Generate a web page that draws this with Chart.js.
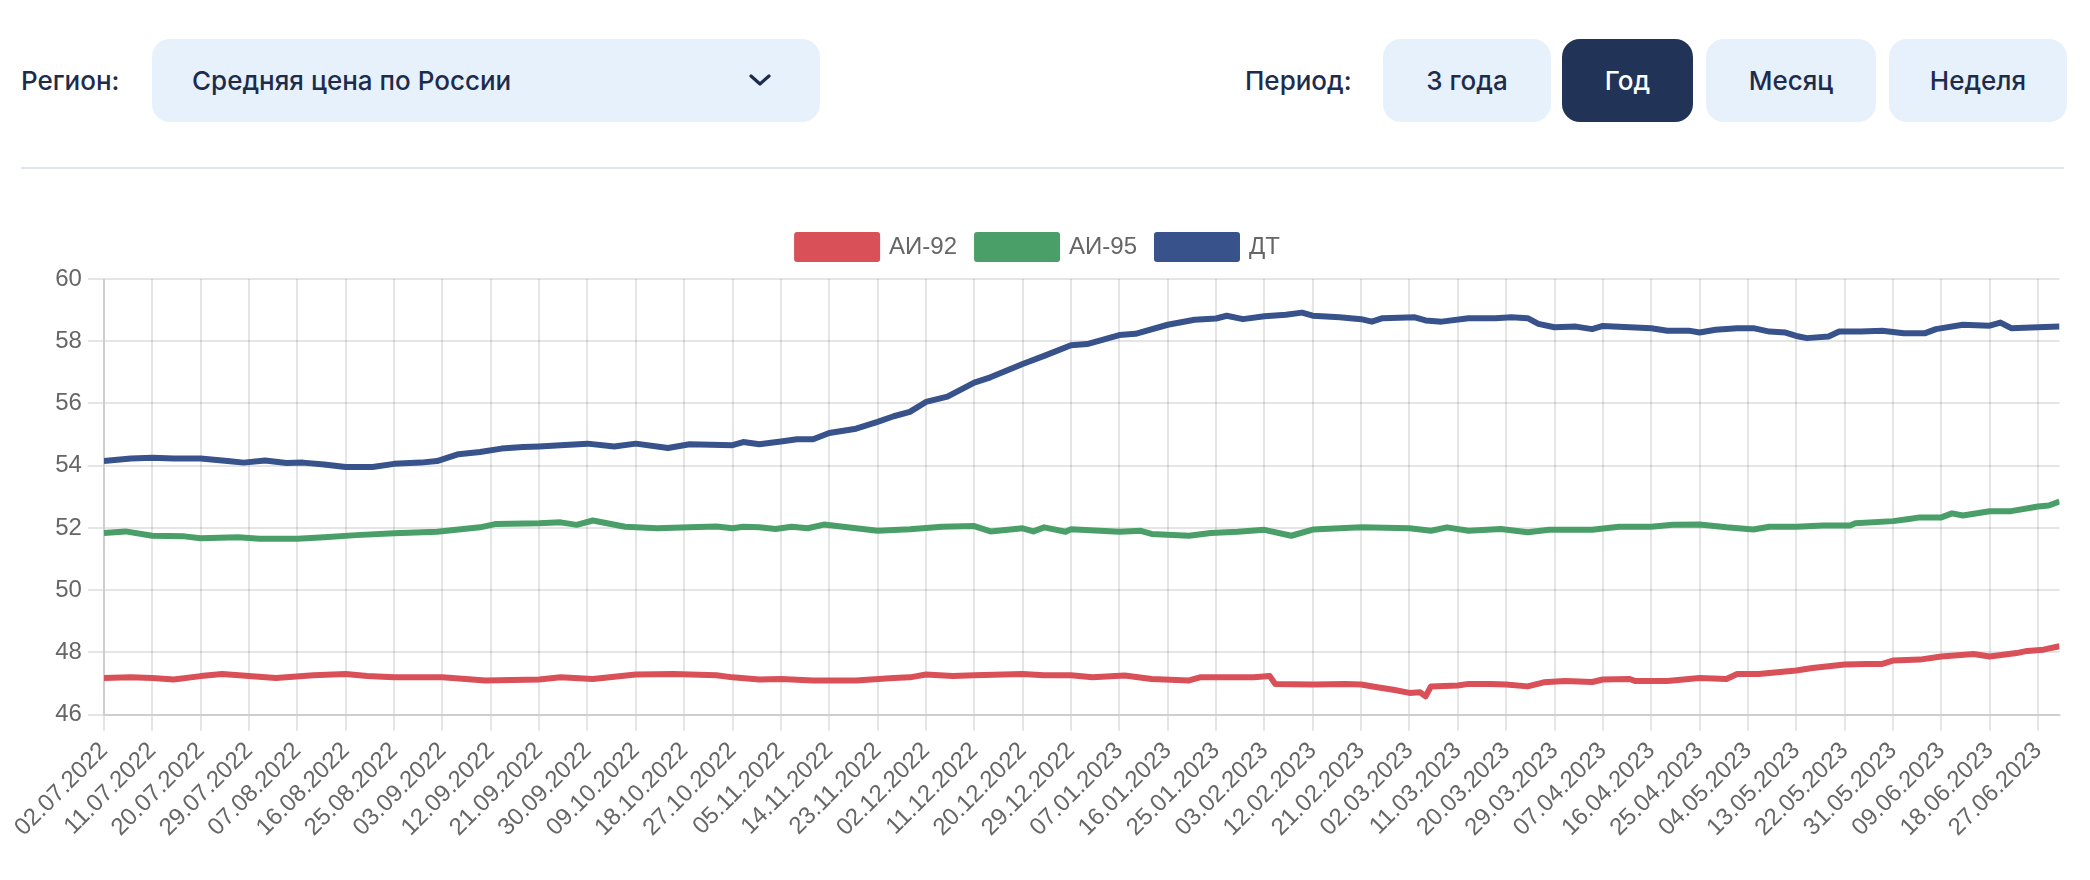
<!DOCTYPE html>
<html lang="ru">
<head>
<meta charset="utf-8">
<title>Цены на топливо</title>
<script src="https://cdn.jsdelivr.net/npm/chart.js@4.4.1/dist/chart.umd.min.js"></script>
<style>
    html, body { margin: 0; padding: 0; background: #fff; }
    body {
        width: 2090px; height: 880px; position: relative; overflow: hidden;
        font-family: Inter, "Noto Sans", sans-serif; color: #1e2c4c;
    }
    .label { position: absolute; top: 39px; line-height: 83px; font-size: 26px; font-weight: 500; }
    .select {
        position: absolute; left: 152px; top: 39px; width: 668px; height: 83px;
        border-radius: 18px; background: #e7f1fc;
    }
    .select span { position: absolute; left: 40px; top: 0; line-height: 83px; font-size: 26px; font-weight: 500; }
    .select svg { position: absolute; left: 597px; top: 35px; }
    .btn {
        position: absolute; top: 39px; height: 83px; line-height: 83px;
        border-radius: 18px; background: #e7f1fc; text-align: center;
        font-size: 26px; font-weight: 500;
    }
    .btn.active { background: #213356; color: #fff; }
    .divider { position: absolute; left: 21px; top: 167px; width: 2043px; height: 2px; background: #dfe4f1; }
    .chart-box { position: absolute; left: 13px; top: 215px; width: 2051px; height: 633px; }
</style>
</head>
<body>

<div class="label" style="left: 21px;">Регион:</div>
<div class="select">
    <span>Средняя цена по России</span>
    <svg width="22" height="12" viewBox="0 0 22 12">
        <polyline points="2,2 11,10 20,2" fill="none" stroke="#1e2c4c" stroke-width="3.2" stroke-linecap="round" stroke-linejoin="round"/>
    </svg>
</div>

<div class="label" style="left: 1245px;">Период:</div>
<div class="btn" style="left: 1383px; width: 168px;">3 года</div>
<div class="btn active" style="left: 1562px; width: 131px;">Год</div>
<div class="btn" style="left: 1706px; width: 170px;">Месяц</div>
<div class="btn" style="left: 1889px; width: 178px;">Неделя</div>

<div class="divider"></div>

<div class="chart-box"><canvas id="fuel-chart"></canvas></div>

<script>
// Days are counted from 02.07.2022 (day 0) to 01.07.2023 (day 364)
const startDate = Date.UTC(2022, 6, 2);
const lastDay = 364;

// АИ-92
const ai92Days = [0, 5, 9, 13, 18, 22, 27, 32, 39, 45, 49, 54, 63, 71, 81, 85, 91, 99, 106, 114,
    117, 122, 126, 132, 140, 147, 150, 153, 158, 162, 171, 175, 180, 184, 190, 195, 202, 204, 214, 217,
    218, 225, 231, 234, 237, 240, 243, 245, 246, 247, 252, 254, 258, 261, 265, 268, 272, 277, 279, 284,
    285, 291, 297, 302, 304, 308, 315, 318, 324, 328, 331, 333, 338, 342, 348, 351, 356, 358, 361, 364];
const ai92 = [47.18, 47.2, 47.18, 47.13, 47.24, 47.31, 47.24, 47.18, 47.27, 47.31, 47.24, 47.2, 47.2, 47.1, 47.13, 47.2, 47.15, 47.29, 47.31, 47.27,
    47.2, 47.13, 47.15, 47.1, 47.1, 47.18, 47.2, 47.29, 47.24, 47.27, 47.31, 47.27, 47.27, 47.2, 47.26, 47.15, 47.1, 47.2, 47.2, 47.24,
    46.99, 46.97, 46.99, 46.97, 46.88, 46.8, 46.7, 46.72, 46.59, 46.91, 46.94, 46.99, 46.99, 46.97, 46.91, 47.04, 47.08, 47.05, 47.13, 47.15,
    47.08, 47.08, 47.18, 47.15, 47.31, 47.31, 47.42, 47.5, 47.61, 47.63, 47.63, 47.74, 47.77, 47.87, 47.95, 47.87, 47.98, 48.05, 48.09, 48.2];

// АИ-95
const ai95Days = [0, 4, 9, 15, 18, 25, 29, 36, 41, 47, 54, 62, 70, 73, 81, 85, 88, 91, 97, 103,
    109, 114, 117, 119, 122, 125, 128, 131, 134, 140, 144, 150, 156, 162, 165, 171, 173, 175, 179, 180,
    189, 193, 195, 202, 206, 211, 216, 221, 225, 234, 243, 247, 250, 254, 260, 265, 269, 277, 282, 288,
    292, 297, 302, 307, 310, 315, 320, 325, 326, 333, 336, 338, 342, 344, 346, 351, 355, 360, 362, 364];
const ai95 = [51.84, 51.89, 51.75, 51.73, 51.67, 51.7, 51.65, 51.65, 51.7, 51.77, 51.83, 51.88, 52.02, 52.13, 52.15, 52.18, 52.1, 52.24, 52.04, 51.99,
    52.02, 52.05, 51.99, 52.04, 52.02, 51.97, 52.04, 51.99, 52.11, 51.99, 51.91, 51.96, 52.04, 52.06, 51.89, 51.99, 51.89, 52.02, 51.88, 51.96,
    51.88, 51.91, 51.81, 51.75, 51.84, 51.88, 51.94, 51.75, 51.95, 52.02, 51.99, 51.91, 52.02, 51.91, 51.97, 51.86, 51.94, 51.94, 52.04, 52.04,
    52.1, 52.11, 52.02, 51.95, 52.04, 52.04, 52.08, 52.08, 52.15, 52.22, 52.29, 52.34, 52.34, 52.47, 52.4, 52.54, 52.54, 52.69, 52.72, 52.85];

// ДТ
const dtDays = [0, 5, 9, 13, 18, 23, 26, 30, 34, 37, 41, 45, 50, 54, 59, 62, 66, 70, 74, 78,
    81, 85, 90, 95, 99, 105, 109, 117, 119, 122, 126, 129, 132, 135, 140, 144, 147, 150, 153, 157,
    162, 165, 171, 175, 180, 183, 189, 192, 198, 203, 207, 209, 212, 216, 220, 223, 225, 230, 234, 236,
    238, 244, 246, 249, 254, 259, 262, 265, 267, 270, 274, 277, 279, 288, 291, 295, 297, 300, 304, 307,
    310, 313, 315, 317, 321, 323, 327, 331, 335, 339, 341, 346, 351, 353, 355, 360, 364];
const dt = [54.15, 54.23, 54.26, 54.23, 54.23, 54.15, 54.1, 54.17, 54.09, 54.1, 54.04, 53.96, 53.96, 54.06, 54.1, 54.15, 54.37, 54.44, 54.55, 54.6,
    54.62, 54.66, 54.71, 54.62, 54.71, 54.57, 54.69, 54.66, 54.76, 54.69, 54.78, 54.85, 54.85, 55.05, 55.19, 55.41, 55.59, 55.73, 56.05, 56.22,
    56.67, 56.84, 57.27, 57.53, 57.87, 57.91, 58.2, 58.24, 58.53, 58.69, 58.73, 58.82, 58.71, 58.8, 58.85, 58.92, 58.82, 58.77, 58.71, 58.63,
    58.74, 58.77, 58.67, 58.63, 58.74, 58.74, 58.77, 58.74, 58.56, 58.45, 58.47, 58.39, 58.49, 58.42, 58.34, 58.34, 58.28, 58.37, 58.42, 58.42,
    58.31, 58.28, 58.17, 58.1, 58.15, 58.31, 58.31, 58.34, 58.26, 58.26, 58.39, 58.53, 58.5, 58.6, 58.42, 58.45, 58.47];

const labelStep = 9;
const priceMin = 46;
const priceMax = 60;
const priceStep = 2;

function dayLabel(day) {
    let d = new Date(startDate + day * 86400000);
    return String(d.getUTCDate()).padStart(2, '0') + '.'
        + String(d.getUTCMonth() + 1).padStart(2, '0') + '.'
        + d.getUTCFullYear();
}

function toPoints(days, values) {
    return days.map((day, i) => ({ x: day, y: values[i] }));
}

// a bit more room under the legend
const legendGap = {
    id: 'legendGap',
    beforeInit(chart) {
        const fit = chart.legend.fit;
        chart.legend.fit = function () {
            fit.call(this);
            this.height += 10;
        };
    }
};

const tickFont = { size: 24 };

new Chart(document.getElementById('fuel-chart'), {
    type: 'line',
    data: {
        datasets: [
            { label: 'АИ-92', data: toPoints(ai92Days, ai92), borderColor: '#d95058', backgroundColor: '#d95058' },
            { label: 'АИ-95', data: toPoints(ai95Days, ai95), borderColor: '#4a9e68', backgroundColor: '#4a9e68' },
            { label: 'ДТ', data: toPoints(dtDays, dt), borderColor: '#38528c', backgroundColor: '#38528c' }
        ]
    },
    options: {
        responsive: true,
        maintainAspectRatio: false,
        animation: false,
        devicePixelRatio: 1,
        elements: {
            point: { radius: 0 },
            line: { borderWidth: 6, tension: 0, borderJoinStyle: 'round' }
        },
        plugins: {
            legend: {
                labels: { boxWidth: 80, boxHeight: 24, padding: 20, font: { size: 24 }, color: '#666' }
            },
            tooltip: { enabled: false }
        },
        scales: {
            x: {
                type: 'linear',
                min: 0,
                max: lastDay,
                grid: { lineWidth: 2, tickLength: 16 },
                border: { width: 2 },
                ticks: {
                    stepSize: labelStep,
                    includeBounds: false,
                    autoSkip: false,
                    minRotation: 45,
                    maxRotation: 45,
                    padding: 6,
                    font: tickFont,
                    color: '#666',
                    callback: (value) => dayLabel(value)
                }
            },
            y: {
                min: priceMin,
                max: priceMax,
                grid: { lineWidth: 2, tickLength: 16 },
                border: { width: 2 },
                ticks: { stepSize: priceStep, padding: 6, font: tickFont, color: '#666' }
            }
        }
    },
    plugins: [legendGap]
});
</script>
</body>
</html>
